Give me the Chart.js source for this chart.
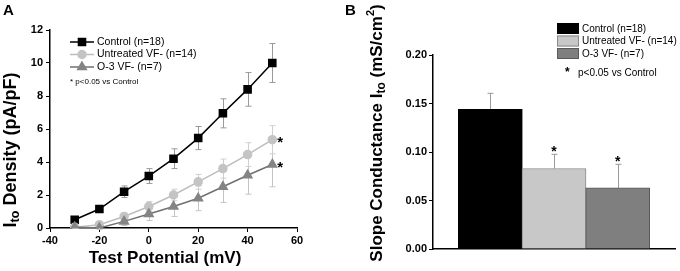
<!DOCTYPE html>
<html>
<head>
<meta charset="utf-8">
<script src="https://cdn.jsdelivr.net/npm/chart.js@4.4.0/dist/chart.umd.min.js"></script>
<style>
body { margin: 0; background: #fff; }
#wrap { position: relative; width: 680px; height: 271px; }
.panel { position: absolute; top: 0; width: 340px; height: 271px; }
</style>
</head>
<body>
<div id="wrap">
  <div class="panel" style="left:0"><canvas id="ChartA" width="340" height="271"></canvas></div>
  <div class="panel" style="left:340px"><canvas id="ChartB" width="340" height="271"></canvas></div>
</div>
<script>
/* ---- datos panel A: densidad Ito vs potencial ---- */
const voltajes = [-30, -20, -10, 0, 10, 20, 30, 40, 50];
const control_m = [0.5, 1.15, 2.2, 3.15, 4.2, 5.45, 6.95, 8.4, 10.0];
const control_e = [0.1, 0.15, 0.35, 0.45, 0.6, 0.7, 0.88, 1.02, 1.18];
const untreated_m = [0.05, 0.2, 0.7, 1.3, 2.0, 2.8, 3.6, 4.45, 5.35];
const untreated_e = [0.05, 0.1, 0.2, 0.3, 0.35, 0.45, 0.58, 0.72, 0.85];
const omega_m = [0.05, 0.0, 0.4, 0.85, 1.3, 1.8, 2.5, 3.2, 3.85];
const omega_e = [0.05, 0.08, 0.25, 0.4, 0.6, 0.75, 0.95, 1.15, 1.35];
const grupos = ["Control (n=18)", "Untreated VF- (n=14)", "O-3 VF- (n=7)"];
const signif = [false, true, true];
const nota = "p<0.05 vs Control";
const ticksA_x = [-40, 60, 20];   // min, max, paso
const ticksA_y = [0, 12, 2];

/* ---- datos panel B: slope conductance ---- */
const slope_m = [0.144, 0.083, 0.063];
const slope_e = [0.0165, 0.0146, 0.0243];
const ticksB_y = [0, 0.2, 0.05];

Chart.defaults.font.family = "'Liberation Sans', Arial, sans-serif";
Chart.defaults.color = "#000";

const FAM = "'Liberation Sans', Arial, sans-serif";

// texto con subindices / superindices, centrado en cx
function textoRico(ctx, partes, cx, cy) {
	let total = 0;
	partes.forEach(p => {
		ctx.font = "bold " + p.s + "px " + FAM;
		p.w = ctx.measureText(p.t).width;
		total += p.w;
	});
	let x = cx - total / 2;
	ctx.textAlign = "left";
	ctx.textBaseline = "alphabetic";
	partes.forEach(p => {
		ctx.font = "bold " + p.s + "px " + FAM;
		ctx.fillText(p.t, x, cy + (p.dy || 0));
		x += p.w;
	});
}

/* barras de error (dibujadas antes que las lineas) */
const barrasError = {
	id: "barrasError",
	beforeDatasetsDraw(chart, args, opts) {
		const ctx = chart.ctx;
		const ys = chart.scales.y;
		ctx.save();
		chart.data.datasets.forEach((ds, i) => {
			const meta = chart.getDatasetMeta(i);
			ctx.strokeStyle = ds.colorError;
			ctx.lineWidth = 1;
			meta.data.forEach((el, j) => {
				const m = ds.medias[j], e = ds.errores[j];
				const top = ys.getPixelForValue(m + e);
				const bot = opts.soloArriba ? ys.getPixelForValue(m) : ys.getPixelForValue(m - e);
				const x = Math.round(el.x) + 0.5;
				ctx.beginPath();
				ctx.moveTo(x, top);
				ctx.lineTo(x, bot);
				ctx.moveTo(x - 3, top);
				ctx.lineTo(x + 3, top);
				if (!opts.soloArriba) {
					ctx.moveTo(x - 3, bot);
					ctx.lineTo(x + 3, bot);
				}
				ctx.stroke();
			});
		});
		ctx.restore();
	}
};

/* Panel A */
const G4a = document.getElementById("ChartA").getContext("2d");
const estilosA = [
	{ linea: "#000000", relleno: "#000000", punto: "rect", r: 5, err: "#9a9a9a" },
	{ linea: "#bdbdbd", relleno: "#c4c4c4", punto: "circle", r: 4, err: "#cfcfcf" },
	{ linea: "#707070", relleno: "#848484", punto: "triangle", r: 5, err: "#c4c4c4" }
];
const mediasA = [control_m, untreated_m, omega_m];
const erroresA = [control_e, untreated_e, omega_e];

const extrasA = {
	id: "extrasA",
	afterDatasetsDraw(chart) {
		const ctx = chart.ctx;
		ctx.save();
		ctx.fillStyle = "#000";
		// asteriscos
		chart.data.datasets.forEach((ds, i) => {
			if (!signif[ds.grupo]) return;
			const meta = chart.getDatasetMeta(i);
			const el = meta.data[meta.data.length - 1];
			ctx.font = "bold 15px " + FAM;
			ctx.textAlign = "left";
			ctx.textBaseline = "middle";
			ctx.fillText("*", el.x + 5, el.y + 3);
		});
		// leyenda
		estilosA.forEach((st, i) => {
			const y = 42 + i * 12.5;
			ctx.strokeStyle = st.linea;
			ctx.lineWidth = 1.5;
			ctx.beginPath();
			ctx.moveTo(70, y);
			ctx.lineTo(94, y);
			ctx.stroke();
			ctx.fillStyle = st.relleno;
			ctx.strokeStyle = st.relleno;
			Chart.helpers.drawPoint(ctx, { pointStyle: st.punto, radius: st.r, rotation: 0, borderWidth: 1 }, 82, y);
			ctx.fillStyle = "#000";
			ctx.font = "10.5px " + FAM;
			ctx.textAlign = "left";
			ctx.textBaseline = "middle";
			ctx.fillText(grupos[i], 97, y);
		});
		ctx.font = "8px " + FAM;
		ctx.fillText("* " + nota, 70, 82);
		// titulos
		textoRico(ctx, [{ t: "Test Potential (mV)", s: 17 }], 165, 263);
		ctx.save();
		ctx.translate(0, 150);
		ctx.rotate(-Math.PI / 2);
		textoRico(ctx, [{ t: "I", s: 18 }, { t: "to", s: 12.5, dy: 3 }, { t: " Density (pA/pF)", s: 18 }], 0, 16);
		ctx.restore();
		ctx.font = "bold 15px " + FAM;
		ctx.textAlign = "left";
		ctx.textBaseline = "alphabetic";
		ctx.fillText("A", 3, 15);
		ctx.restore();
	}
};

let ChartA = new Chart(G4a, {
	type: "line",
	data: {
		datasets: grupos.map((g, i) => ({
			label: g,
			grupo: i,
			data: voltajes.map((v, j) => ({ x: v, y: mediasA[i][j] })),
			medias: mediasA[i],
			errores: erroresA[i],
			colorError: estilosA[i].err,
			borderColor: estilosA[i].linea,
			backgroundColor: estilosA[i].relleno,
			pointBackgroundColor: estilosA[i].relleno,
			pointBorderColor: estilosA[i].relleno,
			pointStyle: estilosA[i].punto,
			pointRadius: estilosA[i].r,
			borderWidth: 1.5,
		})).reverse(),
	},
	options: {
		responsive: false,
		animation: false,
		layout: { padding: { top: 30, right: 43, left: 0, bottom: 0 } },
		plugins: { legend: { display: false }, tooltip: { enabled: false }, barrasError: {} },
		scales: {
			x: {
				type: "linear",
				min: ticksA_x[0], max: ticksA_x[1],
				ticks: { stepSize: ticksA_x[2], font: { size: 11, weight: "bold" }, padding: 2 },
				grid: { drawOnChartArea: false, color: "#000", tickLength: 4 },
				border: { color: "#000", width: 1.5 },
				afterFit: s => { s.height = 43; }
			},
			y: {
				min: ticksA_y[0], max: ticksA_y[1],
				ticks: { stepSize: ticksA_y[2], font: { size: 11, weight: "bold" }, padding: 3 },
				grid: { drawOnChartArea: false, color: "#000", tickLength: 4 },
				border: { color: "#000", width: 1.5 },
				afterFit: s => { s.width = 50; }
			}
		}
	},
	plugins: [barrasError, extrasA]
});

/* Panel B */
const G4b = document.getElementById("ChartB").getContext("2d");
const rellenoB = ["#000000", "#c8c8c8", "#7f7f7f"];
const bordeB = ["#000000", "#8a8a8a", "#5a5a5a"];

const extrasB = {
	id: "extrasB",
	afterDatasetsDraw(chart) {
		const ctx = chart.ctx;
		const ys = chart.scales.y;
		const meta = chart.getDatasetMeta(0);
		ctx.save();
		ctx.fillStyle = "#000";
		meta.data.forEach((el, j) => {
			if (!signif[j]) return;
			const top = ys.getPixelForValue(slope_m[j] + slope_e[j]);
			ctx.font = "bold 14px " + FAM;
			ctx.textAlign = "center";
			ctx.textBaseline = "alphabetic";
			ctx.fillText("*", el.x, top + 2);
		});
		// leyenda
		grupos.forEach((g, i) => {
			const y = 23 + i * 12.5;
			ctx.fillStyle = rellenoB[i];
			ctx.fillRect(217, y, 22, 11);
			ctx.strokeStyle = bordeB[i];
			ctx.lineWidth = 1;
			ctx.strokeRect(217.5, y + 0.5, 21, 10);
			ctx.fillStyle = "#000";
			ctx.font = "10px " + FAM;
			ctx.textAlign = "left";
			ctx.textBaseline = "middle";
			ctx.fillText(g, 242, y + 6);
		});
		ctx.font = "bold 12px " + FAM;
		ctx.fillText("*", 225, 73);
		ctx.font = "10px " + FAM;
		ctx.fillText(nota, 238, 73);
		// titulo eje y
		ctx.save();
		ctx.translate(0, 133);
		ctx.rotate(-Math.PI / 2);
		textoRico(ctx, [
			{ t: "Slope Conductance I", s: 17 },
			{ t: "to", s: 12, dy: 3 },
			{ t: " (mS/cm", s: 17 },
			{ t: "2", s: 11, dy: -8 },
			{ t: ")", s: 17 }
		], 0, 42);
		ctx.restore();
		ctx.font = "bold 15px " + FAM;
		ctx.textAlign = "left";
		ctx.textBaseline = "alphabetic";
		ctx.fillText("B", 5, 15);
		ctx.restore();
	}
};

let ChartB = new Chart(G4b, {
	type: "bar",
	data: {
		datasets: [{
			label: "Slope",
			data: slope_m.map((v, i) => ({ x: i, y: v })),
			medias: slope_m,
			errores: slope_e,
			colorError: "#9a9a9a",
			backgroundColor: rellenoB,
			borderColor: bordeB,
			borderWidth: 1,
			barThickness: 64,
		}],
	},
	options: {
		responsive: false,
		animation: false,
		layout: { padding: { top: 55, right: 5, left: 0, bottom: 0 } },
		plugins: { legend: { display: false }, tooltip: { enabled: false }, barrasError: { soloArriba: true } },
		scales: {
			x: {
				type: "linear",
				offset: false,
				min: -0.9, max: 2.9,
				ticks: { display: false },
				grid: { display: false, offset: false },
				border: { color: "#000", width: 1.5 },
				afterFit: s => { s.height = 22; }
			},
			y: {
				min: ticksB_y[0], max: ticksB_y[1],
				ticks: { stepSize: ticksB_y[2], font: { size: 11, weight: "bold" }, padding: 2,
					callback: v => v.toFixed(2) },
				grid: { drawOnChartArea: false, color: "#000", tickLength: 4 },
				border: { color: "#000", width: 1.5 },
				afterFit: s => { s.width = 93; }
			}
		}
	},
	plugins: [barrasError, extrasB]
});
</script>
</body>
</html>
